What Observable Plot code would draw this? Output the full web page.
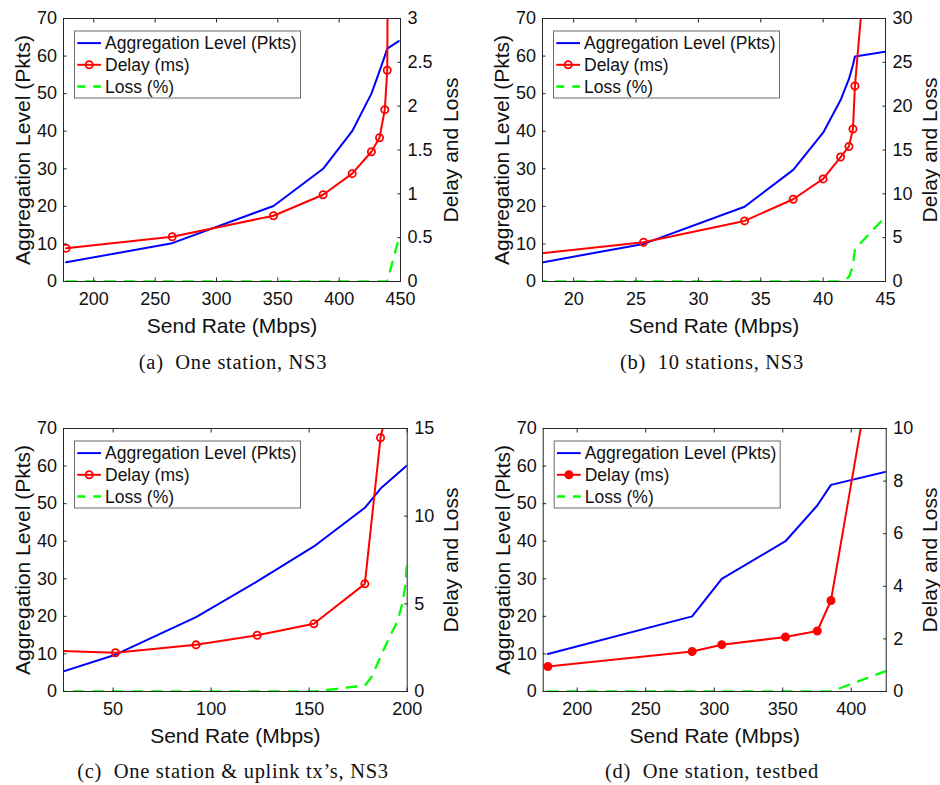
<!DOCTYPE html>
<html>
<head>
<meta charset="utf-8">
<script src="https://cdn.jsdelivr.net/npm/d3@7"></script>
<script src="https://cdn.jsdelivr.net/npm/@observablehq/plot@0.6"></script>
<style>
  body { margin: 0; background: #fff; }
  #root { position: relative; width: 940px; height: 785px; overflow: hidden; background: #fff; }
  .panel { position: absolute; }
  .cap { position: absolute; font-family: "Liberation Serif", "DejaVu Serif", serif; font-size: 20.5px; letter-spacing: 0.7px; line-height: 20px; color: #111; white-space: pre; transform: translateX(-50%); }
</style>
</head>
<body>
<div id="root"></div>
<script>
// ---------- text ----------
const captions = ["(a)  One station, NS3", "(b)  10 stations, NS3", "(c)  One station & uplink tx\u2019s, NS3", "(d)  One station, testbed"];
const seriesNames = ["Aggregation Level (Pkts)", "Delay (ms)", "Loss (%)"];
const xTitle = "Send Rate (Mbps)";
const yTitle = "Aggregation Level (Pkts)";
const rTitle = "Delay and Loss";
const yTicks = [0, 10, 20, 30, 40, 50, 60, 70];

// ---------- (a) One station, NS3 ----------
const rateA  = [177.4, 263.9, 346.5, 386.9, 410.6, 426.3, 432.9, 437.2, 439.2, 448.6];
const aggA   = [5.1, 10.2, 20.1, 30.0, 40.0, 50.0, 56.0, 60.0, 62.0, 64.0];
const delayA = [0.38, 0.51, 0.75, 0.99, 1.23, 1.48, 1.64, 1.96, 2.41, 30];
const lossRateA = [177.4, 263.9, 346.5, 386.9, 410.6, 426.3, 432.9, 437.2, 439.2, 448.6];
const lossA  = [0, 0, 0, 0, 0, 0, 0, 0, 0, 0.49];
const xTicksA = [200, 250, 300, 350, 400, 450];
const rTicksA = [0, 0.5, 1, 1.5, 2, 2.5, 3];

// ---------- (b) 10 stations, NS3 ----------
const rateB  = [17.0, 25.6, 33.7, 37.6, 40.0, 41.4, 42.07, 42.39, 42.55, 45.0];
const aggB   = [4.8, 10.0, 19.9, 29.7, 39.6, 48.3, 53.9, 57.6, 59.9, 61.2];
const delayB = [3.15, 4.48, 6.91, 9.38, 11.7, 14.2, 15.4, 17.4, 22.3, 63];
const lossRateB = [17.0, 25.6, 33.7, 37.6, 40.0, 41.4, 42.07, 42.39, 42.55, 45.0];
const lossB  = [0, 0, 0, 0, 0, 0, 0.5, 1.8, 3.7, 7.4];
const xTicksB = [20, 25, 30, 35, 40, 45];
const rTicksB = [0, 5, 10, 15, 20, 25, 30];

// ---------- (c) One station & uplink tx's, NS3 ----------
const rateC  = [20, 51.2, 92.3, 123.5, 152.4, 178.4, 186.4, 200];
const aggC   = [4.6, 9.8, 19.8, 29.3, 38.6, 48.9, 54.0, 60.2];
const delayC = [2.32, 2.21, 2.66, 3.21, 3.86, 6.14, 14.47, 21];
const lossRateC = [20, 152.4, 178.4, 182, 186.4, 190.6, 195, 197.5, 199, 200];
const lossC  = [0, 0, 0.34, 0.85, 2.0, 3.0, 4.0, 5.0, 6.0, 7.5];
const xTicksC = [50, 100, 150, 200];
const rTicksC = [0, 5, 10, 15];

// ---------- (d) One station, testbed ----------
const rateD  = [178.6, 283.9, 305.5, 352.0, 375.2, 385.2, 425.5];
const aggD   = [10.0, 20.0, 30.0, 40.0, 49.5, 55.0, 58.5];
const delayD = [0.95, 1.52, 1.78, 2.07, 2.30, 3.46, 15.6];
const lossRateD = [178.6, 283.9, 305.5, 352.0, 375.2, 385.2, 425.5];
const lossD  = [0, 0, 0, 0, 0, 0, 0.78];
const xTicksD = [200, 250, 300, 350, 400];
const rTicksD = [0, 2, 4, 6, 8, 10];

// ---------- panel setup (layout) ----------
const panels = [
  {rate: rateA, agg: aggA, delay: delayA, lossRate: lossRateA, loss: lossA, xTicks: xTicksA, rTicks: rTicksA,
   xDomain: [175.3, 450], rMax: 3, filled: false, left: 0, top: 0, ml: 63, mr: 70, rdx: 50.5, cap: captions[0], cx: 233, cy: 352},
  {rate: rateB, agg: aggB, delay: delayB, lossRate: lossRateB, loss: lossB, xTicks: xTicksB, rTicks: rTicksB,
   xDomain: [17.5, 45], rMax: 30, filled: false, left: 470, top: 0, ml: 72, mr: 55, rdx: 44.5, cap: captions[1], cx: 712, cy: 352},
  {rate: rateC, agg: aggC, delay: delayC, lossRate: lossRateC, loss: lossC, xTicks: xTicksC, rTicks: rTicksC,
   xDomain: [24.7, 200], rMax: 15, filled: false, left: 0, top: 410, ml: 63, mr: 63.3, rdx: 44, cap: captions[2], cx: 233, cy: 761},
  {rate: rateD, agg: aggD, delay: delayD, lossRate: lossRateD, loss: lossD, xTicks: xTicksD, rTicks: rTicksD,
   xDomain: [175.2, 425.5], rMax: 10, filled: true, left: 470, top: 410, ml: 72.7, mr: 54.3, rdx: 44, cap: captions[3], cx: 712, cy: 761}
];

const BLUE = "#0000ff", RED = "#ff0000", GREEN = "#00ff00", AX = "#262626", TXT = "#111";
const W = 470, H = 345, MT = 18, MB = 64;
const root = document.getElementById("root");

function makePanel(p) {
  const k = 70 / p.rMax;
  const aggData = p.rate.map((x, i) => ({x, y: p.agg[i]}));
  const delayData = p.rate.map((x, i) => ({x, y: p.delay[i] * k}));
  const lossData = p.lossRate.map((x, i) => ({x, y: p.loss[i] * k}));
  const rScaled = p.rTicks.map(v => v * k);
  const rFmt = d => String(+(d / k).toFixed(6));

  const svg = Plot.plot({
    width: W, height: H,
    marginLeft: p.ml, marginRight: p.mr, marginTop: MT, marginBottom: MB,
    x: {type: "linear", domain: p.xDomain},
    y: {type: "linear", domain: [0, 70]},
    style: {fontFamily: '"Liberation Sans", Arial, sans-serif', fontSize: "18px", color: TXT, background: "transparent", overflow: "visible"},
    marks: [
      Plot.line(lossData, {x: "x", y: "y", stroke: GREEN, strokeWidth: 2.3, strokeDasharray: "10,9.5", clip: true}),
      Plot.line(aggData, {x: "x", y: "y", stroke: BLUE, strokeWidth: 2, clip: true}),
      Plot.line(delayData, {x: "x", y: "y", stroke: RED, strokeWidth: 2, clip: true}),
      Plot.dot(delayData, {x: "x", y: "y", r: 3.6, stroke: RED, strokeWidth: 1.8, fill: p.filled ? RED : "none", clip: true}),
      Plot.frame({stroke: AX, strokeWidth: 1}),
      // inward tick marks
      Plot.axisX(p.xTicks, {anchor: "bottom", tickSize: -3.5, fill: "none", stroke: AX, label: null}),
      Plot.axisX(p.xTicks, {anchor: "top", tickSize: -3.5, fill: "none", stroke: AX, label: null}),
      Plot.axisY(yTicks, {anchor: "left", tickSize: -3.5, fill: "none", stroke: AX, label: null}),
      Plot.axisY(rScaled, {anchor: "right", tickSize: -3.5, fill: "none", stroke: AX, label: null}),
      // tick labels
      Plot.axisX(p.xTicks, {anchor: "bottom", tickSize: 0, tickPadding: 11, label: null, fill: TXT, fontSize: 18, tickFormat: d => String(d)}),
      Plot.axisY(yTicks, {anchor: "left", tickSize: 0, tickPadding: 6.5, label: null, fill: TXT, fontSize: 18, tickFormat: d => String(d)}),
      Plot.axisY(rScaled, {anchor: "right", tickSize: 0, tickPadding: 7, label: null, fill: TXT, fontSize: 18, tickFormat: rFmt}),
      // axis titles
      Plot.text([xTitle], {frameAnchor: "bottom", dy: 45, text: d => d, fontSize: 21, textAnchor: "middle", lineAnchor: "middle", fill: TXT}),
      Plot.text([yTitle], {frameAnchor: "left", dx: -40, rotate: -90, text: d => d, fontSize: 21, textAnchor: "middle", lineAnchor: "middle", fill: TXT}),
      Plot.text([rTitle], {frameAnchor: "right", dx: p.rdx, rotate: -90, text: d => d, fontSize: 21, textAnchor: "middle", lineAnchor: "middle", fill: TXT})
    ]
  });

  // legend box inside the axes
  const g = d3.select(svg).append("g").attr("class", "legend").attr("text-anchor", "start");
  const bx = p.ml + 11, by = MT + 12.5, bw = 226, bh = 67;
  g.append("rect").attr("x", bx + 0.5).attr("y", by + 0.5).attr("width", bw).attr("height", bh)
    .attr("fill", "#fff").attr("stroke", "#6b6b6b").attr("stroke-width", 1);
  const rows = [
    {name: seriesNames[0], stroke: BLUE, dash: null, marker: false},
    {name: seriesNames[1], stroke: RED, dash: null, marker: true},
    {name: seriesNames[2], stroke: GREEN, dash: "8,8", marker: false}
  ];
  rows.forEach((r, i) => {
    const cy = by + 12.6 + i * 21.7;
    g.append("line").attr("x1", bx + 3.3).attr("x2", bx + 27).attr("y1", cy).attr("y2", cy)
      .attr("stroke", r.stroke).attr("stroke-width", i === 2 ? 2.3 : 2).attr("stroke-dasharray", r.dash);
    if (r.marker) {
      g.append("circle").attr("cx", bx + 15.2).attr("cy", cy).attr("r", 3.6)
        .attr("fill", p.filled ? RED : "none").attr("stroke", RED).attr("stroke-width", 1.8);
    }
    g.append("text").attr("x", bx + 31).attr("y", cy).attr("dy", "0.35em")
      .attr("text-anchor", "start").attr("font-size", 17.5).attr("fill", TXT).text(r.name);
  });

  const div = document.createElement("div");
  div.className = "panel";
  div.style.left = p.left + "px";
  div.style.top = p.top + "px";
  div.appendChild(svg);
  root.appendChild(div);

  const cap = document.createElement("div");
  cap.className = "cap";
  cap.style.left = p.cx + "px";
  cap.style.top = p.cy + "px";
  cap.textContent = p.cap;
  root.appendChild(cap);
}

panels.forEach(makePanel);
</script>
</body>
</html>
